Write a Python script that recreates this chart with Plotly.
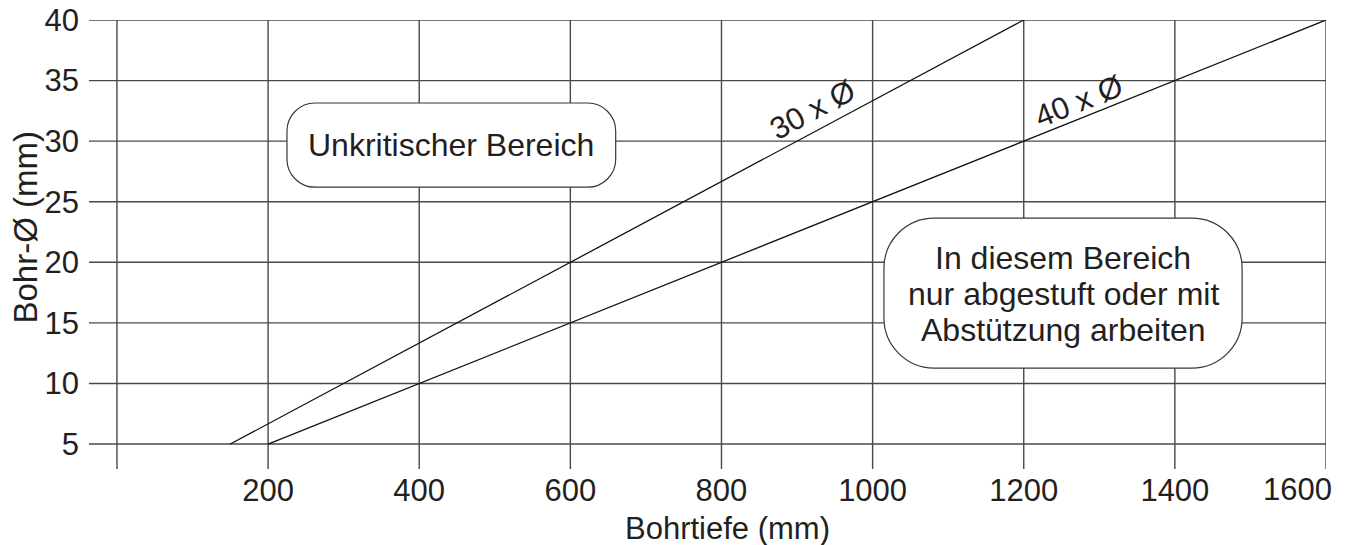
import plotly.graph_objects as go

# ---- data ----
x_ticks = [200, 400, 600, 800, 1000, 1200, 1400, 1600]
x_grid = [0, 200, 400, 600, 800, 1000, 1200, 1400, 1600]
y_ticks = [5, 10, 15, 20, 25, 30, 35, 40]
line30_x = [150, 1200]
line30_y = [5, 40]
line40_x = [200, 1600]
line40_y = [5, 40]
x_title = "Bohrtiefe (mm)"
y_title = "Bohr-Ø (mm)"

FONT = "Liberation Sans, Arial, sans-serif"
TXT = "#231f20"
GRID = "#4a4848"

X_RANGE = [-37, 1600]
Y_RANGE = [2.94, 40]
L, R, T, B = 89, 26, 20, 76
W, H = 1352, 545
pxx = (W - L - R) / (X_RANGE[1] - X_RANGE[0])
pxy = (H - T - B) / (Y_RANGE[1] - Y_RANGE[0])

fig = go.Figure()
fig.add_trace(go.Scatter(x=line30_x, y=line30_y, mode="lines",
                         line=dict(color="#111111", width=1.3), hoverinfo="skip"))
fig.add_trace(go.Scatter(x=line40_x, y=line40_y, mode="lines",
                         line=dict(color="#111111", width=1.3), hoverinfo="skip"))

shapes = []
for gx in x_grid:
    shapes.append(dict(type="line", xref="x", yref="paper", x0=gx, x1=gx, y0=0, y1=1,
                       line=dict(color=GRID, width=1.4), layer="below"))
for gy in y_ticks:
    shapes.append(dict(type="line", xref="paper", yref="y", x0=0, x1=1, y0=gy, y1=gy,
                       line=dict(color=GRID, width=1.4), layer="below"))


def rrect(x0, x1, y0, y1, r):
    rx = r / pxx
    ry = r / pxy
    k = 0.45
    p = (f"M {x0+rx},{y1} L {x1-rx},{y1} "
         f"C {x1-rx*k},{y1} {x1},{y1-ry*k} {x1},{y1-ry} "
         f"L {x1},{y0+ry} "
         f"C {x1},{y0+ry*k} {x1-rx*k},{y0} {x1-rx},{y0} "
         f"L {x0+rx},{y0} "
         f"C {x0+rx*k},{y0} {x0},{y0+ry*k} {x0},{y0+ry} "
         f"L {x0},{y1-ry} "
         f"C {x0},{y1-ry*k} {x0+rx*k},{y1} {x0+rx},{y1} Z")
    return dict(type="path", xref="x", yref="y", path=p, fillcolor="white",
                line=dict(color="#3a3838", width=1.2), layer="above")


shapes.append(rrect(225, 660, 26.2, 33.15, 28))
shapes.append(rrect(1015, 1489, 11.27, 23.65, 50))

ann = []
ann.append(dict(x=442, y=29.7, xref="x", yref="y", text="Unkritischer Bereich",
                showarrow=False, font=dict(family=FONT, size=32, color=TXT)))
box2_lines = ["In diesem Bereich", "nur abgestuft oder mit", "Abstützung arbeiten"]
for i, t in enumerate(box2_lines):
    ann.append(dict(x=1252, y=5 + (444 - (258 + 36 * i)) / pxy, xref="x", yref="y",
                    text=t, showarrow=False, font=dict(family=FONT, size=32, color=TXT)))
ann.append(dict(x=921, y=32.6, xref="x", yref="y", text="30 x Ø", textangle=-28.1,
                showarrow=False, font=dict(family=FONT, size=31, color=TXT)))
ann.append(dict(x=1272, y=33.3, xref="x", yref="y", text="40 x Ø", textangle=-21.8,
                showarrow=False, font=dict(family=FONT, size=31, color=TXT)))
# last x tick label, pulled inside the page like in the reference
ann.append(dict(x=x_ticks[-1], y=0, xref="x", yref="paper", text=str(x_ticks[-1]),
                xanchor="right", yanchor="top", xshift=8, yshift=-1, showarrow=False,
                font=dict(family=FONT, size=31, color=TXT)))
# axis titles
ann.append(dict(x=808, y=0, xref="x", yref="paper", text=x_title,
                xanchor="center", yanchor="middle", yshift=-59, showarrow=False,
                font=dict(family=FONT, size=31, color=TXT)))
ann.append(dict(x=0, y=(H - B - 227.5) / (H - T - B), xref="paper", yref="paper",
                text=y_title, textangle=-90, xanchor="center", yanchor="middle",
                xshift=25 - L, showarrow=False,
                font=dict(family=FONT, size=33, color=TXT)))

fig.update_layout(
    width=W, height=H,
    margin=dict(l=L, r=R, t=T, b=B),
    paper_bgcolor="white", plot_bgcolor="white",
    showlegend=False,
    font=dict(family=FONT, size=31, color=TXT),
    shapes=shapes, annotations=ann,
    xaxis=dict(range=X_RANGE, tickvals=x_ticks[:-1], ticktext=[str(v) for v in x_ticks[:-1]],
               showgrid=False, zeroline=False, showline=False, ticks="",
               automargin=False,
               tickfont=dict(family=FONT, size=31, color=TXT)),
    yaxis=dict(range=Y_RANGE, tickvals=y_ticks, ticktext=[str(v) for v in y_ticks],
               showgrid=False, zeroline=False, showline=False, ticks="",
               automargin=False, ticklabelstandoff=9,
               tickfont=dict(family=FONT, size=31, color=TXT)),
)

fig.write_html("out.html", config={"displayModeBar": False},
               post_script="document.body.style.margin='0';document.body.style.overflow='hidden';")
